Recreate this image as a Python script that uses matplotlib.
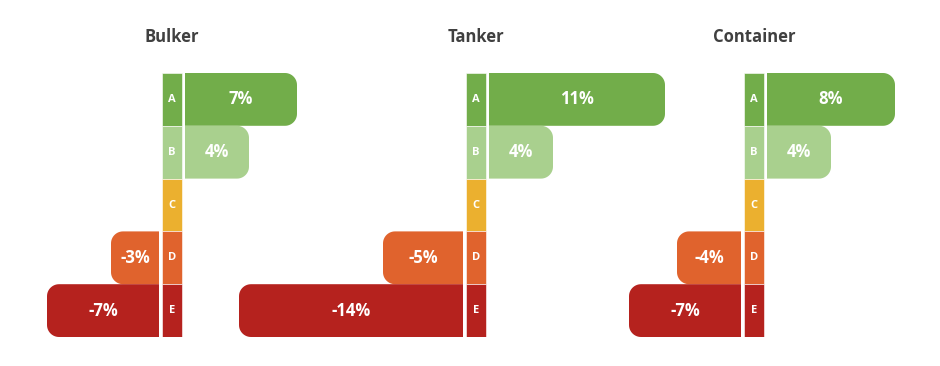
import matplotlib
matplotlib.use("Agg")
import matplotlib.pyplot as plt
import numpy as np
from matplotlib.patches import PathPatch, Rectangle
from matplotlib.path import Path

# data
panels = ["Bulker", "Tanker", "Container"]
ratings = ["A", "B", "C", "D", "E"]
bulker = [7, 4, 0, -3, -7]
tanker = [11, 4, 0, -5, -14]
container = [8, 4, 0, -4, -7]
colors = ["#72ad4a", "#a9d08e", "#ebb02f", "#e0632d", "#b5221e"]

# layout (pixels)
W, H = 940, 366
PX = 16.0            # pixels per percentage point
ROW_TOP, ROW_BOT = 73, 337
zero_px = [185, 489, 767]   # where positive bars start
STRIP = 20 / PX
GAP = 3 / PX
RAD = 12             # corner radius in px

plt.rcParams['font.family'] = ['Open Sans', 'DejaVu Sans']

fig = plt.figure(figsize=(W / 100, H / 100), dpi=100)
row_px = (ROW_BOT - ROW_TOP) / len(ratings)


def bar(ax, y, start, length, color):
    # bar with rounded corners on the outer end only
    rx = RAD / PX
    ry = RAD / row_px
    y0, y1 = y - 0.5, y + 0.5
    end = start + length
    s = 1 if length > 0 else -1
    t = np.linspace(0, np.pi / 2, 14)
    cx = end - s * rx
    c1 = [(cx + s * rx * np.sin(a), y0 + ry - ry * np.cos(a)) for a in t]
    c2 = [(cx + s * rx * np.cos(a), y1 - ry + ry * np.sin(a)) for a in t]
    verts = [(start, y0)] + c1 + c2 + [(start, y1), (start, y0)]
    ax.add_patch(PathPatch(Path(verts, closed=True), fc=color, ec="none"))


for name, vals, x0 in zip(panels, [bulker, tanker, container], zero_px):
    ax = fig.add_axes([0, (H - ROW_BOT) / H, 1, (ROW_BOT - ROW_TOP) / H])
    ax.set_xlim(-x0 / PX, (W - x0) / PX)
    ax.set_ylim(len(ratings) - 0.5, -0.5)
    ax.axis("off")
    ax.patch.set_alpha(0)
    neg_end = -(2 * GAP + STRIP)
    for i, (r, v, c) in enumerate(zip(ratings, vals, colors)):
        ax.add_patch(Rectangle((-GAP - STRIP, i - 0.5), STRIP, 1, fc=c,
                               ec="white", lw=0.4))
        ax.text(-GAP - STRIP / 2, i, r, color="white", fontsize=8,
                fontweight="bold", ha="center", va="center")
        if v > 0:
            bar(ax, i, 0, v, c)
            ax.text(v / 2, i, f"{v}%", color="white", fontsize=12,
                    fontweight="bold", ha="center", va="center")
        elif v < 0:
            bar(ax, i, neg_end, v, c)
            ax.text(neg_end + v / 2, i, f"{v}%", color="white", fontsize=12,
                    fontweight="bold", ha="center", va="center")
    ax.text(-GAP - STRIP / 2, -0.5 - 36 / row_px, name, color="#404040",
            fontsize=12, fontweight="bold", ha="center", va="center")

fig.savefig("out.png", dpi=100)
